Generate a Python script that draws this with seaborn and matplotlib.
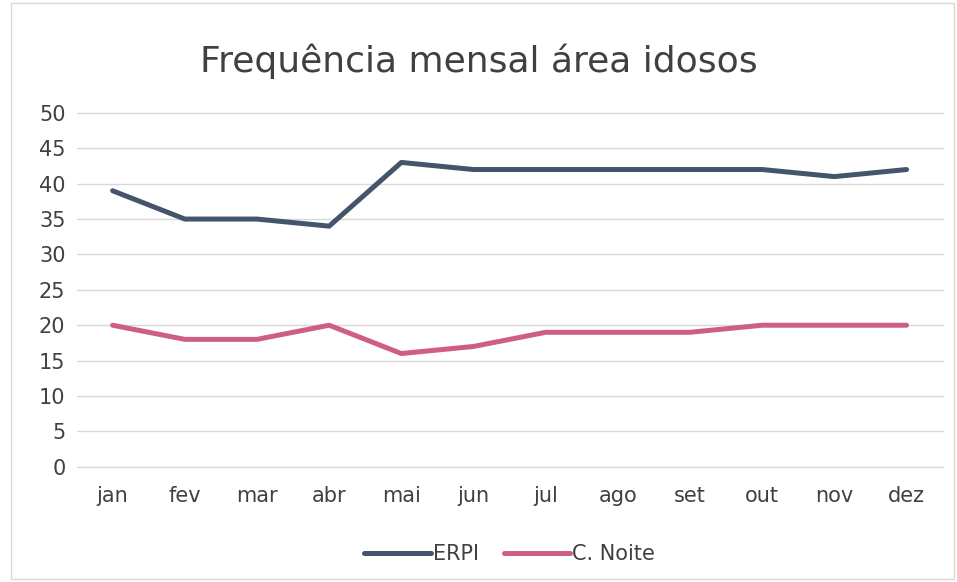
import matplotlib
matplotlib.use("Agg")
import matplotlib.pyplot as plt
import seaborn as sns
import pandas as pd

months = ["jan", "fev", "mar", "abr", "mai", "jun", "jul", "ago", "set", "out", "nov", "dez"]
erpi = [39, 35, 35, 34, 43, 42, 42, 42, 42, 42, 41, 42]
noite = [20, 18, 18, 20, 16, 17, 19, 19, 19, 20, 20, 20]
series_names = ["ERPI", "C. Noite"]
colors = ["#44546a", "#cf5f80"]

df = pd.DataFrame({
    "mes": months * 2,
    "valor": erpi + noite,
    "serie": [series_names[0]] * len(months) + [series_names[1]] * len(months),
})

sns.set_theme(style="white")
plt.rcParams["font.family"] = ["DejaVu Sans"]
text_color = "#404040"

fig = plt.figure(figsize=(9.57, 5.82), dpi=100)
ax = fig.add_axes([0.08, 0.198, 0.905, 0.608])

sns.lineplot(data=df, x="mes", y="valor", hue="serie", palette=colors,
             linewidth=3.6, sort=False, ax=ax, legend=True)

ax.set_xlim(-0.5, len(months) - 0.5)
ax.set_ylim(0, 50)
ax.set_yticks(range(0, 51, 5))
ax.grid(axis="y", color="#d9d9d9", linewidth=1)
for gl in ax.get_ygridlines():
    gl.set_clip_on(False)
ax.set_axisbelow(True)
for s in ax.spines.values():
    s.set_visible(False)
ax.tick_params(axis="both", length=0, labelsize=15, colors=text_color)
ax.tick_params(axis="x", pad=14)
ax.tick_params(axis="y", pad=8)
ax.set_xlabel("")
ax.set_ylabel("")

fig.suptitle("Frequência mensal área idosos", y=0.925, fontsize=26, color=text_color)

handles, labels = ax.get_legend_handles_labels()
ax.legend(handles, labels, loc="upper center", bbox_to_anchor=(0.5, -0.165),
          ncol=2, frameon=False, fontsize=15, handlelength=3.2, handletextpad=0.1,
          columnspacing=1.2, labelcolor=text_color)

fig.patches.append(plt.Rectangle((0.012, 0.005), 0.985, 0.99, transform=fig.transFigure,
                                 fill=False, edgecolor="#d9d9d9", linewidth=1))

fig.savefig("out.png", dpi=100, facecolor="white")
